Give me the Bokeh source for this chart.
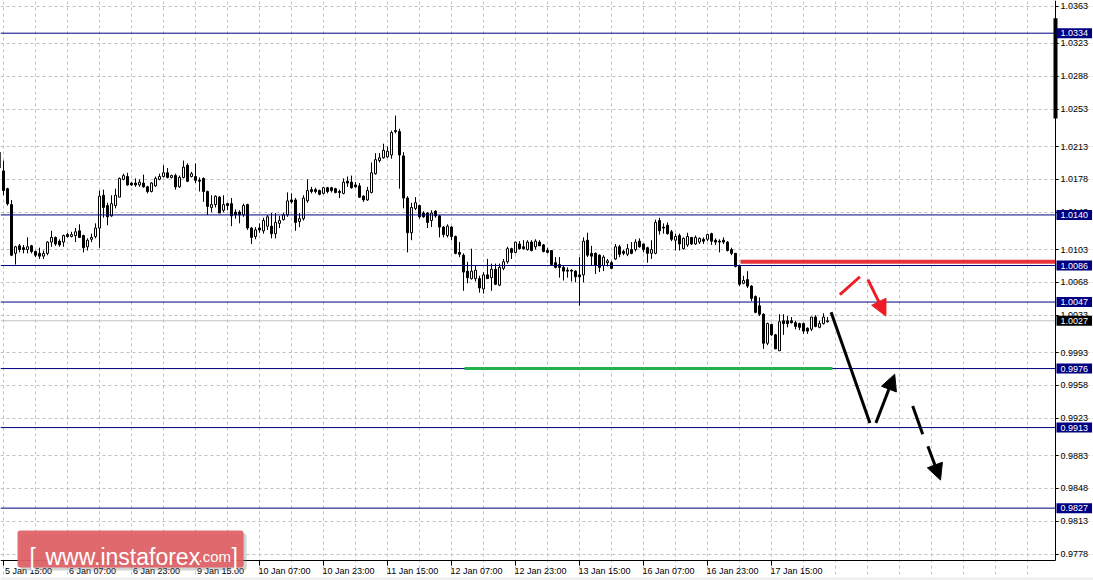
from bokeh.plotting import figure
from bokeh.models import (ColumnDataSource, FixedTicker, LinearAxis, Grid,
                          Label, Arrow, NormalHead, Range1d, NumeralTickFormatter)
from bokeh.embed import file_html
from bokeh.resources import INLINE

# ---------------- data (H1 candles, index 0 = partial candle at left edge) -------------
opens = [1.0207,
    1.0187, 1.0168, 1.0151, 1.0099, 1.0107, 1.0105, 1.0103, 1.0107, 1.0101, 1.0099,
    1.0096, 1.0099, 1.0111, 1.0116, 1.0112, 1.0111, 1.0119, 1.0117, 1.0118, 1.0123,
    1.0118, 1.0106, 1.0114, 1.0117, 1.0126, 1.0161, 1.0150, 1.0139, 1.0150, 1.0159,
    1.0178, 1.0181, 1.0174, 1.0174, 1.0172, 1.0174, 1.0170, 1.0165, 1.0171, 1.0178,
    1.0181, 1.0185, 1.0180, 1.0182, 1.0170, 1.0180, 1.0193, 1.0181, 1.0181, 1.0177,
    1.0179, 1.0165, 1.0148, 1.0151, 1.0159, 1.0145, 1.0152, 1.0152, 1.0143, 1.0143,
    1.0140, 1.0151, 1.0126, 1.0117, 1.0126, 1.0123, 1.0128, 1.0128, 1.0120, 1.0131,
    1.0135, 1.0140, 1.0156, 1.0156, 1.0133, 1.0136, 1.0155, 1.0167, 1.0167, 1.0166,
    1.0163, 1.0169, 1.0169, 1.0168, 1.0165, 1.0163, 1.0176, 1.0175, 1.0172, 1.0171,
    1.0160, 1.0156, 1.0164, 1.0184, 1.0198, 1.0201, 1.0202, 1.0204, 1.0230, 1.0229,
    1.0203, 1.0158, 1.0121, 1.0147, 1.0150, 1.0142, 1.0142, 1.0134, 1.0144, 1.0139,
    1.0127, 1.0118, 1.0127, 1.0117, 1.0100, 1.0097, 1.0080, 1.0072, 1.0072, 1.0072,
    1.0061, 1.0076, 1.0073, 1.0082, 1.0065, 1.0083, 1.0090, 1.0104, 1.0100, 1.0109,
    1.0106, 1.0103, 1.0111, 1.0106, 1.0111, 1.0108, 1.0102, 1.0102, 1.0089, 1.0087,
    1.0084, 1.0081, 1.0081, 1.0080, 1.0076, 1.0076, 1.0113, 1.0099, 1.0099, 1.0097,
    1.0086, 1.0089, 1.0089, 1.0093, 1.0106, 1.0101, 1.0098, 1.0103, 1.0103, 1.0112,
    1.0109, 1.0105, 1.0099, 1.0099, 1.0134, 1.0127, 1.0129, 1.0122, 1.0113, 1.0118,
    1.0104, 1.0108, 1.0116, 1.0109, 1.0111, 1.0114, 1.0114, 1.0120, 1.0113, 1.0112,
    1.0113, 1.0111, 1.0103, 1.0099, 1.0086, 1.0067, 1.0071, 1.0064, 1.0053, 1.0043,
    1.0034, 1.0003, 1.0023, 1.0012, 0.9995, 1.0027, 1.0027, 1.0027, 1.0025, 1.0024,
    1.0024, 1.0019, 1.0018, 1.0031, 1.0020, 1.0024, 1.0026]

highs = [1.0211,
    1.0198, 1.0169, 1.0156, 1.0107, 1.0109, 1.0108, 1.0116, 1.0108, 1.0102, 1.0105,
    1.0102, 1.0112, 1.0123, 1.0117, 1.0114, 1.0119, 1.0121, 1.0122, 1.0126, 1.0130,
    1.0119, 1.0115, 1.0120, 1.0131, 1.0166, 1.0167, 1.0153, 1.0161, 1.0168, 1.0180,
    1.0184, 1.0185, 1.0175, 1.0179, 1.0178, 1.0183, 1.0171, 1.0175, 1.0181, 1.0184,
    1.0193, 1.0190, 1.0183, 1.0184, 1.0182, 1.0198, 1.0195, 1.0186, 1.0195, 1.0180,
    1.0180, 1.0166, 1.0161, 1.0161, 1.0160, 1.0161, 1.0153, 1.0158, 1.0146, 1.0145,
    1.0152, 1.0152, 1.0127, 1.0127, 1.0131, 1.0137, 1.0140, 1.0142, 1.0142, 1.0139,
    1.0142, 1.0164, 1.0163, 1.0158, 1.0142, 1.0161, 1.0178, 1.0170, 1.0169, 1.0167,
    1.0170, 1.0170, 1.0170, 1.0169, 1.0167, 1.0179, 1.0181, 1.0182, 1.0175, 1.0174,
    1.0161, 1.0170, 1.0196, 1.0206, 1.0206, 1.0216, 1.0213, 1.0230, 1.0246, 1.0232,
    1.0207, 1.0160, 1.0153, 1.0159, 1.0151, 1.0144, 1.0143, 1.0145, 1.0145, 1.0140,
    1.0128, 1.0130, 1.0128, 1.0118, 1.0111, 1.0099, 1.0090, 1.0104, 1.0086, 1.0075,
    1.0079, 1.0093, 1.0088, 1.0088, 1.0088, 1.0093, 1.0106, 1.0105, 1.0111, 1.0112,
    1.0113, 1.0113, 1.0113, 1.0114, 1.0113, 1.0109, 1.0105, 1.0102, 1.0095, 1.0095,
    1.0086, 1.0084, 1.0082, 1.0081, 1.0095, 1.0116, 1.0121, 1.0107, 1.0100, 1.0098,
    1.0097, 1.0093, 1.0091, 1.0109, 1.0108, 1.0103, 1.0109, 1.0111, 1.0114, 1.0115,
    1.0109, 1.0106, 1.0113, 1.0135, 1.0137, 1.0131, 1.0132, 1.0124, 1.0120, 1.0120,
    1.0116, 1.0121, 1.0116, 1.0118, 1.0116, 1.0116, 1.0120, 1.0121, 1.0115, 1.0114,
    1.0116, 1.0112, 1.0105, 1.0099, 1.0087, 1.0075, 1.0080, 1.0065, 1.0054, 1.0052,
    1.0035, 1.0025, 1.0024, 1.0013, 1.0034, 1.0034, 1.0032, 1.0031, 1.0027, 1.0025,
    1.0025, 1.0020, 1.0031, 1.0033, 1.0027, 1.0035, 1.0031]

lows = [1.0185,
    1.0161, 1.0150, 1.0096, 1.0087, 1.0100, 1.0099, 1.0099, 1.0099, 1.0095, 1.0093,
    1.0093, 1.0097, 1.0106, 1.0107, 1.0106, 1.0106, 1.0116, 1.0116, 1.0111, 1.0116,
    1.0100, 1.0102, 1.0111, 1.0115, 1.0105, 1.0137, 1.0129, 1.0138, 1.0147, 1.0159,
    1.0177, 1.0171, 1.0171, 1.0170, 1.0170, 1.0169, 1.0163, 1.0164, 1.0170, 1.0177,
    1.0180, 1.0179, 1.0179, 1.0167, 1.0169, 1.0179, 1.0175, 1.0180, 1.0174, 1.0165,
    1.0154, 1.0140, 1.0143, 1.0148, 1.0142, 1.0143, 1.0145, 1.0128, 1.0136, 1.0131,
    1.0138, 1.0124, 1.0109, 1.0114, 1.0121, 1.0120, 1.0124, 1.0115, 1.0115, 1.0126,
    1.0134, 1.0138, 1.0152, 1.0123, 1.0127, 1.0134, 1.0153, 1.0163, 1.0163, 1.0161,
    1.0162, 1.0163, 1.0164, 1.0163, 1.0158, 1.0162, 1.0170, 1.0168, 1.0169, 1.0158,
    1.0154, 1.0155, 1.0163, 1.0183, 1.0196, 1.0200, 1.0201, 1.0200, 1.0227, 1.0168,
    1.0147, 1.0100, 1.0113, 1.0145, 1.0136, 1.0137, 1.0126, 1.0127, 1.0137, 1.0116,
    1.0116, 1.0116, 1.0113, 1.0098, 1.0095, 1.0059, 1.0067, 1.0071, 1.0069, 1.0057,
    1.0056, 1.0072, 1.0059, 1.0065, 1.0064, 1.0081, 1.0088, 1.0093, 1.0099, 1.0103,
    1.0103, 1.0102, 1.0101, 1.0103, 1.0107, 1.0100, 1.0099, 1.0086, 1.0083, 1.0073,
    1.0070, 1.0073, 1.0069, 1.0068, 1.0043, 1.0068, 1.0095, 1.0086, 1.0077, 1.0079,
    1.0080, 1.0085, 1.0082, 1.0092, 1.0095, 1.0097, 1.0096, 1.0098, 1.0101, 1.0105,
    1.0100, 1.0089, 1.0093, 1.0098, 1.0119, 1.0120, 1.0119, 1.0112, 1.0102, 1.0102,
    1.0103, 1.0106, 1.0108, 1.0108, 1.0109, 1.0109, 1.0112, 1.0108, 1.0108, 1.0100,
    1.0109, 1.0101, 1.0097, 1.0084, 1.0064, 1.0066, 1.0062, 1.0048, 1.0035, 1.0032,
    0.9997, 1.0001, 1.0011, 0.9997, 0.9995, 1.0012, 1.0020, 1.0024, 1.0018, 1.0017,
    1.0013, 1.0013, 1.0016, 1.0020, 1.0019, 1.0023, 1.0025]

closes = [1.0190,
    1.0166, 1.0152, 1.0097, 1.0106, 1.0103, 1.0103, 1.0106, 1.0101, 1.0097, 1.0096,
    1.0099, 1.0111, 1.0116, 1.0109, 1.0108, 1.0118, 1.0117, 1.0119, 1.0122, 1.0116,
    1.0105, 1.0113, 1.0116, 1.0126, 1.0160, 1.0148, 1.0138, 1.0152, 1.0161, 1.0179,
    1.0182, 1.0172, 1.0172, 1.0172, 1.0175, 1.0170, 1.0165, 1.0174, 1.0179, 1.0181,
    1.0185, 1.0180, 1.0182, 1.0170, 1.0180, 1.0191, 1.0176, 1.0184, 1.0177, 1.0176,
    1.0165, 1.0149, 1.0151, 1.0160, 1.0142, 1.0151, 1.0150, 1.0139, 1.0140, 1.0140,
    1.0150, 1.0126, 1.0116, 1.0124, 1.0124, 1.0134, 1.0138, 1.0120, 1.0132, 1.0134,
    1.0140, 1.0155, 1.0154, 1.0132, 1.0136, 1.0158, 1.0166, 1.0165, 1.0165, 1.0162,
    1.0169, 1.0165, 1.0166, 1.0164, 1.0164, 1.0175, 1.0174, 1.0169, 1.0170, 1.0159,
    1.0156, 1.0166, 1.0185, 1.0199, 1.0201, 1.0209, 1.0208, 1.0228, 1.0229, 1.0204,
    1.0158, 1.0121, 1.0148, 1.0153, 1.0138, 1.0138, 1.0132, 1.0142, 1.0139, 1.0127,
    1.0119, 1.0128, 1.0117, 1.0099, 1.0098, 1.0079, 1.0073, 1.0080, 1.0081, 1.0062,
    1.0076, 1.0072, 1.0082, 1.0066, 1.0084, 1.0090, 1.0104, 1.0100, 1.0111, 1.0104,
    1.0104, 1.0111, 1.0102, 1.0112, 1.0107, 1.0101, 1.0100, 1.0087, 1.0084, 1.0084,
    1.0080, 1.0080, 1.0080, 1.0074, 1.0074, 1.0112, 1.0097, 1.0096, 1.0086, 1.0084,
    1.0095, 1.0091, 1.0083, 1.0106, 1.0098, 1.0099, 1.0104, 1.0099, 1.0111, 1.0106,
    1.0103, 1.0099, 1.0103, 1.0132, 1.0123, 1.0126, 1.0120, 1.0114, 1.0117, 1.0109,
    1.0115, 1.0117, 1.0109, 1.0116, 1.0115, 1.0112, 1.0119, 1.0112, 1.0111, 1.0111,
    1.0111, 1.0102, 1.0099, 1.0085, 1.0066, 1.0070, 1.0064, 1.0051, 1.0036, 1.0034,
    1.0003, 1.0024, 1.0012, 0.9997, 1.0026, 1.0024, 1.0024, 1.0025, 1.0021, 1.0020,
    1.0016, 1.0016, 1.0031, 1.0021, 1.0024, 1.0031, 1.0027]

# time axis labels (every 16 bars, first at bar 1)
date_labels = ["5 Jan 15:00", "6 Jan 07:00", "6 Jan 23:00", "9 Jan 15:00", "10 Jan 07:00",
               "10 Jan 23:00", "11 Jan 15:00", "12 Jan 07:00", "12 Jan 23:00", "13 Jan 15:00",
               "16 Jan 07:00", "16 Jan 23:00", "17 Jan 15:00"]
label_step = 16
label_first = 1

# price scale ticks
y_ticks = [1.0363, 1.0323, 1.0288, 1.0253, 1.0213, 1.0178, 1.0143, 1.0103, 1.0068, 1.0033,
           0.9993, 0.9958, 0.9923, 0.9883, 0.9848, 0.9813, 0.9778]

# horizontal levels (blue)
levels = [1.0334, 1.0140, 1.0086, 1.0047, 0.9976, 0.9913, 0.9827]
current_price = 1.0027

# drawn objects
red_level = 1.0090
red_start = 185.25
green_level = 0.9976
green_start = 116.25
green_end = 208.25

black_path_x = [207.9, 217.6]
black_path_y = [1.0036, 0.9918]
black_arrow = [219.1, 0.9918, 223.8, 0.9970]
dash_seg = [228.3, 0.9936, 230.8, 0.9906]
dash_arrow = [232.1, 0.9893, 235.25, 0.9857]
red_seg = [210.1, 1.0055, 215.1, 1.0074]
red_arrow = [217.1, 1.0071, 221.6, 1.0032]
scale_bar = [1.0350, 1.0243]

# ---------------- figure ----------------
X0, X1 = 0.25, 273.5        # whole canvas width
XA = 264.0                   # price-axis position
Y0, Y1 = 0.974975, 1.03689   # whole canvas height
YA = 0.97711                 # time-axis position
Y_STRIP = 0.97530            # top of the grey window strip

p = figure(frame_width=1093, frame_height=580, x_range=Range1d(X0, X1), y_range=Range1d(Y0, Y1),
           output_backend="svg", toolbar_location=None,
           x_axis_location=None, y_axis_location=None,
           min_border_left=0, min_border_top=0, min_border_right=0, min_border_bottom=0)
p.outline_line_color = None
p.background_fill_color = "white"
p.border_fill_color = "white"
p.grid.visible = False

# grey strip at the bottom of the window
p.quad(left=[X0], right=[X1], bottom=[Y0], top=[Y_STRIP], fill_color="#f0f0f0", line_color=None)

# grids (limited to the chart area)
vgrid = list(range(1, 258, 8))
p.add_layout(Grid(dimension=0, ticker=FixedTicker(ticks=vgrid), bounds=(YA, Y1),
                  grid_line_color="#c0c0c0", grid_line_dash="3 3", grid_line_width=1))
p.add_layout(Grid(dimension=1, ticker=FixedTicker(ticks=y_ticks), bounds=(X0, XA),
                  grid_line_color="#c0c0c0", grid_line_dash="3 3", grid_line_width=1))

# axes
yaxis = LinearAxis(ticker=FixedTicker(ticks=y_ticks), formatter=NumeralTickFormatter(format="0.0000"),
                   fixed_location=XA, bounds=(YA, Y1))
yaxis.axis_line_color = "black"
yaxis.major_tick_out = 3
yaxis.major_tick_in = 0
yaxis.minor_tick_out = 0
yaxis.minor_tick_in = 0
yaxis.major_tick_line_color = "black"
yaxis.major_label_standoff = 2
yaxis.major_label_text_font = "Liberation Sans"
yaxis.major_label_text_font_size = "9px"
yaxis.major_label_text_color = "black"
p.add_layout(yaxis, "right")

tick_starts = [label_first + label_step * k for k in range(len(date_labels))]
label_centers = [t + 6.25 for t in tick_starts]
xaxis = LinearAxis(ticker=FixedTicker(ticks=label_centers, minor_ticks=tick_starts),
                   major_label_overrides={c: lab for c, lab in zip(label_centers, date_labels)},
                   fixed_location=YA, bounds=(X0, XA))
xaxis.axis_line_color = "black"
xaxis.major_tick_out = 0
xaxis.major_tick_in = 0
xaxis.minor_tick_out = 5
xaxis.minor_tick_in = 0
xaxis.minor_tick_line_color = "black"
xaxis.major_label_standoff = 0
xaxis.major_label_text_font = "Liberation Sans"
xaxis.major_label_text_font_size = "9px"
xaxis.major_label_text_color = "black"
p.add_layout(xaxis, "below")

# current price line
p.segment(x0=[X0], y0=[current_price], x1=[XA], y1=[current_price], line_color="#c0c0c0", line_width=1)

# candles
idx = list(range(len(opens)))
bull = [i for i in idx if closes[i] >= opens[i]]
bear = [i for i in idx if closes[i] < opens[i]]
wick_src = ColumnDataSource(dict(x=idx, high=highs, low=lows))
bull_src = ColumnDataSource(dict(x=bull, top=[closes[i] for i in bull], bottom=[opens[i] for i in bull]))
bear_src = ColumnDataSource(dict(x=bear, top=[opens[i] for i in bear], bottom=[closes[i] for i in bear]))
p.segment(x0="x", y0="low", x1="x", y1="high", source=wick_src, line_color="black", line_width=1)
p.vbar(x="x", width=0.5, top="top", bottom="bottom", source=bull_src,
       fill_color="white", line_color="black", line_width=1)
p.vbar(x="x", width=0.5, top="top", bottom="bottom", source=bear_src,
       fill_color="black", line_color="black", line_width=1)

# blue levels
p.segment(x0=[X0] * len(levels), y0=levels, x1=[XA] * len(levels), y1=levels,
          line_color="#000080", line_width=1)

# red resistance & green support
p.segment(x0=[red_start], y0=[red_level], x1=[XA], y1=[red_level], line_color="#e41e26",
          line_width=4, line_alpha=0.9)
p.segment(x0=[green_start], y0=[green_level], x1=[green_end], y1=[green_level],
          line_color="#22b14c", line_width=3)

# scale bar on price axis
p.segment(x0=[XA], y0=[scale_bar[0]], x1=[XA], y1=[scale_bar[1]],
          line_color="black", line_width=4)

# forecast sketch
p.line(black_path_x, black_path_y, line_color="black", line_width=3)
p.add_layout(Arrow(end=NormalHead(size=16, fill_color="black", line_color="black", line_width=1),
                   x_start=black_arrow[0], y_start=black_arrow[1], x_end=black_arrow[2], y_end=black_arrow[3],
                   line_color="black", line_width=3))
p.segment(x0=[dash_seg[0]], y0=[dash_seg[1]], x1=[dash_seg[2]], y1=[dash_seg[3]],
          line_color="black", line_width=3)
p.add_layout(Arrow(end=NormalHead(size=16, fill_color="black", line_color="black", line_width=1),
                   x_start=dash_arrow[0], y_start=dash_arrow[1], x_end=dash_arrow[2], y_end=dash_arrow[3],
                   line_color="black", line_width=3))
p.segment(x0=[red_seg[0]], y0=[red_seg[1]], x1=[red_seg[2]], y1=[red_seg[3]],
          line_color="#ee1c24", line_width=3)
p.add_layout(Arrow(end=NormalHead(size=16, fill_color="#ee1c24", line_color="#ee1c24", line_width=1),
                   x_start=red_arrow[0], y_start=red_arrow[1], x_end=red_arrow[2], y_end=red_arrow[3],
                   line_color="#ee1c24", line_width=3))

# boxed price labels on the axis
for lv in levels:
    p.add_layout(Label(x=XA + 0.25, y=lv, text=f"{lv:.4f}",
                       text_font="Liberation Sans", text_font_size="9px", text_color="white",
                       text_baseline="middle", text_align="left",
                       background_fill_color="#000080", padding=(4, 2), level="overlay"))
p.add_layout(Label(x=XA + 0.25, y=current_price, text=f"{current_price:.4f}",
                   text_font="Liberation Sans", text_font_size="9px",
                   text_color="white", text_baseline="middle", text_align="left",
                   background_fill_color="black", padding=(4, 2), level="overlay"))

# watermark
p.add_layout(Label(x=20, y=10, x_units="screen", y_units="screen", text=" ",
                   text_font="Liberation Sans", text_font_size="22px",
                   background_fill_color="#808080", background_fill_alpha=0.35,
                   padding=(110, 6), border_radius=3, level="overlay"))
p.add_layout(Label(x=17, y=13, x_units="screen", y_units="screen", text=" ",
                   text_font="Liberation Sans", text_font_size="22px",
                   background_fill_color="#df5f64", background_fill_alpha=0.92,
                   padding=(110, 6), border_radius=3, level="overlay"))
wm_parts = [("[", 29, "23px"), ("www.instaforex", 45, "23px"), (".com", 198, "15px"), ("]", 231, "23px")]
for txt, xx, fs in wm_parts:
    p.add_layout(Label(x=xx, y=24, x_units="screen", y_units="screen", text=txt,
                       text_font="Liberation Sans", text_font_size=fs, text_color="white",
                       text_baseline="alphabetic", level="overlay"))

open("out.html", "w").write(file_html(p, INLINE, title="chart"))
